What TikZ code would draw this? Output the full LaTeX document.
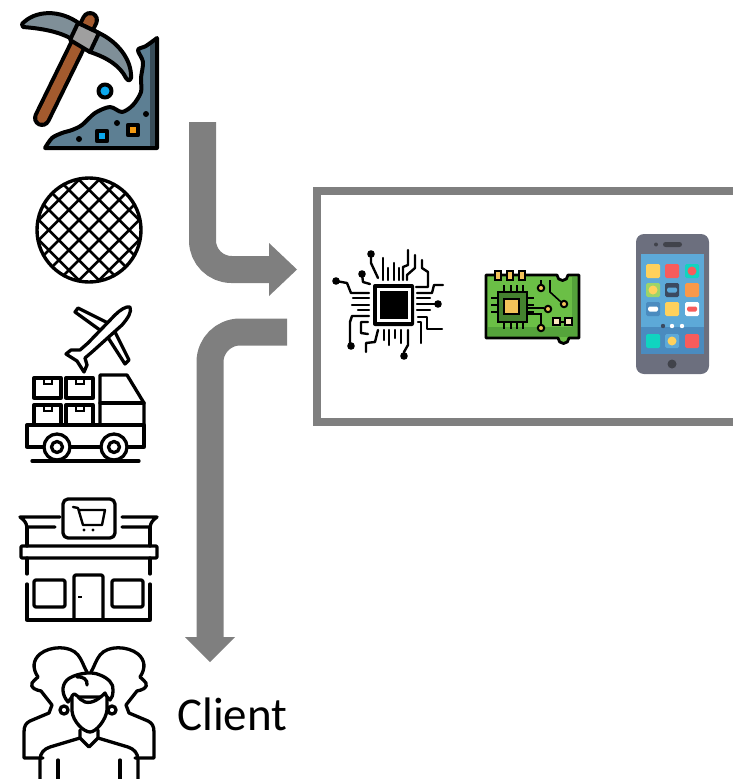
\documentclass[tikz,border=0pt]{standalone}
\usepackage{fontspec}
\usepackage{xcolor}
\usepackage{tikz}
\usetikzlibrary{positioning, calc}
\newfontfamily\clientfont{Carlito}
\definecolor{flowgray}{HTML}{7F7F7F}
\definecolor{bladegray}{HTML}{7F8F98}
\definecolor{rockblue}{HTML}{5D7F93}
\definecolor{handlebrown}{HTML}{A35A2E}
\definecolor{gemblue}{HTML}{0AA8EE}
\definecolor{gemorange}{HTML}{F39A12}
\definecolor{pcbgreen}{HTML}{6BBF46}
\definecolor{pcbdark}{HTML}{55A33B}
\definecolor{pinyellow}{HTML}{F3C35A}
\definecolor{phonebody}{HTML}{6C6F7E}
\definecolor{phonescreen}{HTML}{5DA9D8}
\definecolor{phonedock}{HTML}{4A8BBF}
\definecolor{appyellow}{HTML}{FFD15C}
\definecolor{appred}{HTML}{F75C5C}
\definecolor{appteal}{HTML}{10D4C0}
\definecolor{appgreen}{HTML}{9BD46A}
\definecolor{appnavy}{HTML}{3B4A60}
\definecolor{apporange}{HTML}{F9994A}

\begin{document}
\begin{tikzpicture}[
    x=1pt, y=-1pt,
    flow/.style={line width=27pt, color=flowgray},
    flowhead/.style={fill=flowgray, draw=none},
    iconline/.style={line width=3.3pt, line cap=round, line join=round},
    pickline/.style={line width=4pt, line cap=round, line join=round},
    trace/.style={line width=2.4pt, line cap=round, line join=round},
    pad/.style={fill=black, draw=none},
    app/.style={rounded corners=1.5pt, draw=none, fill=#1},
    pin/.style={line width=1.6pt}
]
\useasboundingbox (0,0) rectangle (733,779);

% Pickaxe and rock
\draw[line width=18pt, line cap=round] (42,118) -- (90,20);
\draw[line width=10pt, line cap=round, handlebrown] (42,118) -- (90,20);
\draw[pickline, fill=bladegray] (22,24) .. controls (35,10) and (60,9) .. (80,24) -- (99,33)
    .. controls (118,42) and (132,60) .. (131,78) .. controls (130,81) and (128,81) .. (126,78)
    .. controls (120,66) and (108,58) .. (90,52) -- (70,38) .. controls (55,30) and (35,28) .. (23,27) -- cycle;
\draw[pickline, fill=gray!75] (78,23) -- (99,33) -- (90,52) -- (70,40) -- cycle;
\fill[rockblue] plot[smooth] coordinates {(45,148) (52,138) (62,133) (72,130) (82,125) (95,113) (110,107) (122,112) (133,105) (141,92) (141,78) (143,62) (138,50) (146,46) (157,38)} -- (157,148) -- cycle;
\fill[rockblue!60!black] (150,44) -- (157,38) -- (157,148) -- (150,148) -- cycle;
\draw[pickline] plot[smooth] coordinates {(45,148) (52,138) (62,133) (72,130) (82,125) (95,113) (110,107) (122,112) (133,105) (141,92) (141,78) (143,62) (138,50) (146,46) (157,38)} -- (157,148) -- cycle;
\draw[pickline, fill=gemblue] (105,91) circle (6.5pt);
\draw[line width=4.6pt, line join=round, fill=gemblue] (97,131) rectangle (107,141);
\draw[line width=4.6pt, line join=round, fill=gemorange] (128,125) rectangle (138,135);
\foreach \dotx/\doty in {79/139, 117/123, 146/114}
    \fill (\dotx,\doty) circle (3pt);

% Wafer
\begin{scope}
\clip (89,230) circle (53pt);
\foreach \ang in {45,-45}
    \foreach \i in {-4,...,4}
        \draw[line width=2.7pt, rotate around={\ang:(89,230)}] (20,230+\i*14.2) -- (160,230+\i*14.2);
\end{scope}
\draw[line width=3.4pt] (89,230) circle (52pt);

% Plane
\draw[iconline, fill=white] (75,312) -- (78,308) -- (110,324) -- (104,333) -- cycle;
\draw[iconline, fill=white] (115,332) -- (129,360) -- (125,364) -- (107,336) -- cycle;
\draw[iconline, fill=white] (130,307) .. controls (132,312) and (128,318) .. (122,325) -- (92,352)
    -- (85,358) -- (87,365) -- (84,372) -- (77,361) -- (66,354) -- (71,350) -- (80,350) -- (88,343) -- (115,315)
    .. controls (120,310) and (126,306) .. (130,307) -- cycle;

% Truck
\foreach \boxx in {34,66}
    \foreach \boxy in {378,405} {
        \draw[iconline] (\boxx,\boxy) rectangle ++(27,20);
        \draw[line width=2.4pt] (\boxx+10,\boxy) -- ++(0,6) -- ++(8,0) -- ++(0,-6);
    }
\draw[iconline] (100,425) -- (100,375) -- (127,375) -- (144,403) -- (144,425);
\draw[iconline] (100,403) -- (144,403);
\draw[iconline] (44,447) -- (27,447) -- (27,425) -- (144,425) -- (144,447) -- (128,447);
\draw[iconline] (71,447) -- (100,447);
\foreach \wheelx in {57,114} {
    \draw[iconline, fill=white] (\wheelx,447) circle (13pt);
    \draw[iconline] (\wheelx,447) circle (5.5pt);
}
\draw[iconline] (32,461) -- (139,461);

% Store
\draw[iconline] (55,527) -- (27,527) .. controls (26,522) and (24,520) .. (20,517) -- (60,517);
\draw[iconline] (122,527) -- (150,527) .. controls (151,522) and (153,520) .. (157,517) -- (122,517);
\draw[iconline] (27,527) -- (27,546);
\draw[iconline] (150,527) -- (150,546);
\draw[iconline, rounded corners=5pt, fill=white] (63,499) rectangle (115,538);
\draw[line width=2.4pt, line join=round, line cap=round] (73,507) -- (78,508) -- (83,525) -- (102,525) -- (105,510) -- (79,510);
\fill (84,530) circle (1.6pt) (93,530) circle (1.6pt);
\draw[iconline, rounded corners=1pt] (21,546) rectangle (157,558);
\draw[iconline] (27,558) -- (27,574);
\draw[iconline] (150,558) -- (150,574);
\draw[iconline] (27,584) -- (27,620) -- (150,620) -- (150,584);
\draw[iconline, rounded corners=2pt] (34,580) rectangle (65,607);
\draw[iconline, rounded corners=2pt] (112,580) rectangle (143,607);
\draw[iconline, rounded corners=2pt] (74,620) -- (74,575) -- (103,575) -- (103,620);
\draw[line width=2.4pt] (78,597) -- (82,597);

% Client group
\foreach \sx/\dx in {1/0,-1/178}
    \draw[iconline, shift={(\dx,0)}, xscale=\sx] (43,758) -- (24,758) -- (24,732) .. controls (24,726) and (26,723) .. (30,721) -- (49,713) -- (52,705) -- (41,691)
        .. controls (36,690) and (30,688) .. (32,683) .. controls (33,680) and (36,680) .. (38,677) .. controls (32,668) and (33,660) .. (40,654)
        .. controls (50,646) and (70,645) .. (78,655) .. controls (82,660) and (83,665) .. (87,672);
\draw[iconline, fill=white] (64,710) circle (4pt);
\draw[iconline, fill=white] (112,710) circle (4pt);
\draw[iconline, fill=white] (68,702) .. controls (62,695) and (61,686) .. (67,680) .. controls (72,675) and (90,670) .. (100,675) .. controls (108,678) and (114,684) .. (113,690) .. controls (113,695) and (112,698) .. (110,700)
    -- (107,697) -- (72,697) -- cycle;
\draw[iconline, fill=white] (72,696) .. controls (76,690) and (78,700) .. (85,702) .. controls (93,704) and (100,698) .. (105,693) -- (107,697)
    -- (107,710) .. controls (106,720) and (96,732) .. (90,732) .. controls (84,732) and (73,722) .. (72,711) -- cycle;
\draw[iconline] (77,677) .. controls (83,676) and (88,680) .. (87,685);
\draw[iconline] (80,730) -- (80,738) -- (89,747) -- (98,738) -- (98,730);
\foreach \sx/\dx in {1/0,-1/178}
    \draw[iconline, shift={(\dx,0)}, xscale=\sx] (80,738) -- (50,747) .. controls (44,749) and (40,753) .. (40,760) -- (40,779);
\draw[iconline] (58,760) -- (58,779);
\draw[iconline] (120,760) -- (120,779);
\node[font=\clientfont\fontsize{47}{50}\selectfont, anchor=base west, inner sep=0pt] (client) at (177,730) {Client};

% Flow arrows
\coordinate (intop) at (202.5,122);
\coordinate (inend) at (270,269.5);
\draw[flow, rounded corners=29pt] (intop) |- (inend);
\fill[flowhead] (269,243) -- (297,269.5) -- (269,296) -- cycle;
\coordinate (outtop) at (287,332);
\coordinate (outend) at (210,638);
\draw[flow, rounded corners=30pt] (outtop) -| (outend);
\fill[flowhead] (185,637) -- (235,637) -- (210,662) -- cycle;

% Device box, open on the right
\draw[line width=7.5pt, flowgray, line join=miter] (733,191) -- (317,191) -- (317,422) -- (733,422);

% Chip
\fill[rounded corners=2pt] (373,284) rectangle (414,326);
\fill[white] (377,288) rectangle (411,322);
\fill (380,291) rectangle (408,319);
\foreach \tracepath in {
    {(371,254) -- (371,263) -- (378,278)},
    {(362,274) -- (363,282) -- (370,284)},
    {(336,281) -- (347,283) -- (351,293) -- (369,293)},
    {(383,258) -- (383,280)},
    {(388,268) -- (388,280)},
    {(394,263) -- (394,280)},
    {(399,268) -- (399,280)},
    {(408,250) -- (408,265) -- (403,267) -- (403,280)},
    {(415,255) -- (415,268) -- (407,275) -- (407,280)},
    {(422,260) -- (422,268) -- (428,272) -- (428,287) -- (416,287)},
    {(443,285) -- (434,285) -- (432,293) -- (417,293)},
    {(430,298) -- (417,298)},
    {(438,304) -- (417,304)},
    {(430,310) -- (417,310)},
    {(418,317) -- (427,317) -- (427,329) -- (442,329)},
    {(418,322) -- (421,322) -- (421,343)},
    {(353,298) -- (369,298)},
    {(352,305) -- (369,305)},
    {(358,310) -- (369,310)},
    {(369,316) -- (352,316) -- (350,322) -- (350,345)},
    {(368,322) -- (361,322) -- (361,333) -- (368,334)},
    {(378,330) -- (375,342) -- (366,343) -- (366,352)},
    {(384,330) -- (384,340)},
    {(389,330) -- (389,345)},
    {(395,330) -- (395,338)},
    {(401,330) -- (401,343)},
    {(408,330) -- (408,345) -- (404,352) -- (404,356)}}
    \draw[trace] \tracepath;
\foreach \padx/\pady in {371/254, 362/274, 336/281, 438/304, 351/346, 404/356}
    \fill[pad] (\padx,\pady) circle (3.8pt);

% Circuit board
\fill[pcbgreen] (486,275) -- (557,275) arc[start angle=180, end angle=360, radius=5.5pt]
    -- (579,275) -- (579,338) -- (569,338) arc[start angle=0, end angle=-180, radius=5.5pt] -- (486,338) -- cycle;
\fill[pcbdark] (487.5,327) rectangle (577.5,336.5);
\fill[pcbdark] (572,276.5) rectangle (577.5,336.5);
\draw[line width=2.8pt, line join=round] (486,275) -- (557,275) arc[start angle=180, end angle=360, radius=5.5pt]
    -- (579,275) -- (579,338) -- (569,338) arc[start angle=0, end angle=-180, radius=5.5pt] -- (486,338) -- cycle;
\foreach \pinx in {495,507,519}
    \draw[line width=2pt, fill=pinyellow] (\pinx,271) rectangle ++(6,9);
\foreach \tickx in {504,511,517,523} {
    \draw[pin] (\tickx,285) -- (\tickx,292);
    \draw[pin] (\tickx,322) -- (\tickx,329);
}
\foreach \ticky in {298,305,312} {
    \draw[pin] (491,\ticky) -- (498,\ticky);
    \draw[pin] (527,\ticky) -- (534,\ticky);
}
\draw[line width=2.4pt, fill=pcbdark!80!black] (498,292) rectangle (527,322);
\draw[line width=2pt, fill=pinyellow] (504,299) rectangle (519,314);
\draw[pin] (527,308) -- (544,308);
\draw[pin] (527,314) -- (541,314) -- (541,324);
\draw[pin] (541,280) -- (541,284);
\draw[pin] (550,280) -- (550,292) -- (561,302);
\foreach \viax/\viay in {548/309, 541/328, 541/288, 564/304}
    \draw[line width=2pt, fill=pinyellow] (\viax,\viay) circle (3.2pt);
\draw[line width=2pt, fill=pinyellow!40] (553,318) rectangle (560,325);
\draw[line width=2pt, fill=pinyellow!40] (565,318) rectangle (572,325);
\draw[line width=2pt] (560,321.5) -- (565,321.5);

% Phone
\fill[phonebody, rounded corners=8pt] (636,234) rectangle (709,374);
\fill[phonescreen] (641,254) rectangle (704,327);
\fill[phonedock] (641,327) rectangle (704,354);
\fill[phonebody!60!black, rounded corners=2.5pt] (663,242) rectangle (682,247);
\fill[phonebody!60!black] (656,244.5) circle (2pt);
\fill[phonebody!60!black] (672,364) circle (4.5pt);
\foreach \appx/\appy/\appcol in {653/271/appyellow, 672/271/appred, 692/271/appteal,
    653/290/appgreen, 672/290/appnavy, 692/290/apporange,
    653/309/phonedock, 672/309/appyellow, 692/309/white,
    653/341/appteal, 672/341/phonescreen, 692/341/appred}
    \fill[app=\appcol] (\appx-7,\appy-7) rectangle (\appx+7,\appy+7);
\fill[appred] (692,271) circle (4.5pt);
\fill[appyellow] (653,290) circle (4.5pt);
\fill[appyellow] (672,341) circle (4.5pt);
\fill[phonescreen, rounded corners=1.5pt] (667,287.5) rectangle (677,292.5);
\fill[white, rounded corners=1.5pt] (648,306.5) rectangle (658,311.5);
\fill[appred, rounded corners=1.5pt] (687,306.5) rectangle (697,311.5);
\fill[appnavy] (663,326) circle (2.2pt);
\fill[white] (672,326) circle (2.2pt) (682,326) circle (2.2pt);

\end{tikzpicture}
\end{document}
